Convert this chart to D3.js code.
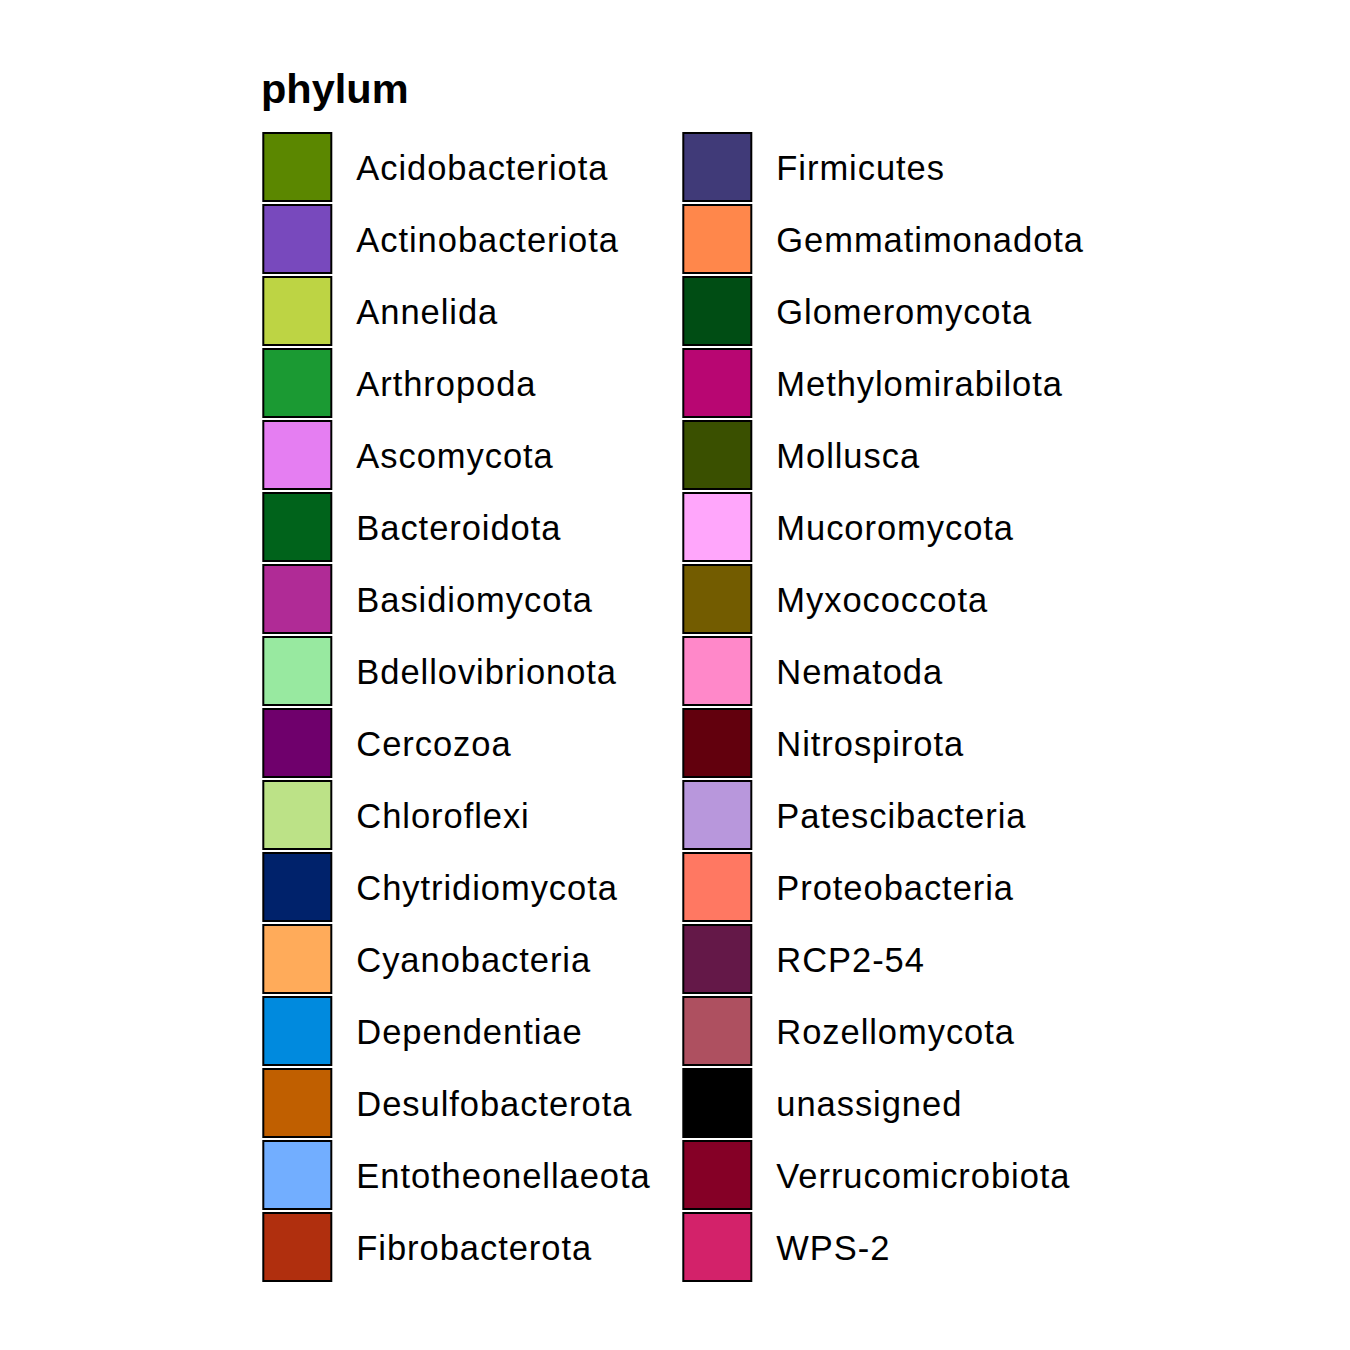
<!DOCTYPE html>
<html><head><meta charset="utf-8">
<script src="https://cdn.jsdelivr.net/npm/d3@7"></script>
<style>html,body{margin:0;padding:0;background:#fff;}</style>
</head><body>
<script>
const legendTitle = "phylum";
const categories = ["Acidobacteriota","Actinobacteriota","Annelida","Arthropoda","Ascomycota","Bacteroidota","Basidiomycota","Bdellovibrionota","Cercozoa","Chloroflexi","Chytridiomycota","Cyanobacteria","Dependentiae","Desulfobacterota","Entotheonellaeota","Fibrobacterota","Firmicutes","Gemmatimonadota","Glomeromycota","Methylomirabilota","Mollusca","Mucoromycota","Myxococcota","Nematoda","Nitrospirota","Patescibacteria","Proteobacteria","RCP2-54","Rozellomycota","unassigned","Verrucomicrobiota","WPS-2"];
const colors = ["#5b8700","#7849bd","#bdd444","#1b9a33","#e57ef2","#00631b","#b02b96","#98e9a0","#6f006c","#bce287","#00226b","#ffab5a","#008ade","#c05f00","#72aeff","#b02f0e","#403a78","#ff874b","#004d14","#b80672","#3a5000","#ffa6fb","#735c00","#ff88c9","#62000d","#b897dc","#ff7862","#641848","#ae5060","#000000","#850026","#d3226a"];
const perColumn = 16;

const W = 1350, H = 1350;
const svg = d3.select("body").append("svg").attr("width", W).attr("height", H)
  .style("font-family", "Arial, 'Liberation Sans', sans-serif");
svg.append("rect").attr("width", W).attr("height", H).attr("fill", "#fff");

const color = d3.scaleOrdinal().domain(categories).range(colors);
const rowY = d3.scaleLinear().domain([0, 1]).range([133, 205]);
const colX = d3.scaleLinear().domain([0, 1]).range([263.3, 683.3]);
const keySize = 68;

svg.append("text").attr("x", 261).attr("y", 103.3)
  .attr("font-size", 41.5).attr("font-weight", "bold").attr("fill", "#000")
  .text(legendTitle);

const g = svg.selectAll("g.item").data(categories).enter().append("g").attr("class", "item")
  .attr("transform", (d, i) => `translate(${colX(Math.floor(i / perColumn))},${rowY(i % perColumn)})`);

g.append("rect").attr("x", 0).attr("y", 0).attr("width", keySize).attr("height", keySize)
  .attr("fill", d => color(d)).attr("stroke", "#000").attr("stroke-width", 2);

g.append("text").attr("x", 93).attr("y", keySize / 2 + 13)
  .attr("font-size", 34.5).attr("letter-spacing", 0.95).attr("fill", "#000").text(d => d);
</script>
</body></html>
